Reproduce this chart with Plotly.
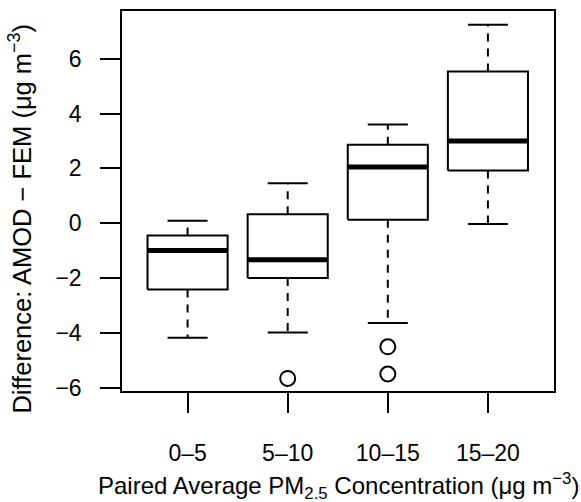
import plotly.graph_objects as go

# ---- data ----
groups = ["0–5", "5–10", "10–15", "15–20"]
lower_whisker = [-4.18, -3.99, -3.64, -0.03]
q1 = [-2.42, -2.00, 0.13, 1.92]
median = [-1.00, -1.33, 2.05, 3.00]
q3 = [-0.45, 0.33, 2.86, 5.53]
upper_whisker = [0.09, 1.46, 3.60, 7.24]
outlier_group = ["5–10", "10–15", "10–15"]
outlier_values = [-5.66, -4.51, -5.50]
y_ticks = [-6, -4, -2, 0, 2, 4, 6]

FONT = "Liberation Sans, Arial, Helvetica, sans-serif"
half = 0.4      # half box width (R boxwex 0.8)
cap = 0.2       # half staple width

positions = [i + 1 for i in range(len(groups))]

box_x, box_y = [], []
med_x, med_y = [], []
wh_x, wh_y = [], []
cap_x, cap_y = [], []
for p, lw, a, m, b, uw in zip(positions, lower_whisker, q1, median, q3, upper_whisker):
    box_x += [p - half, p + half, p + half, p - half, p - half, None]
    box_y += [a, a, b, b, a, None]
    med_x += [p - half, p + half, None]
    med_y += [m, m, None]
    wh_x += [p, p, None, p, p, None]
    wh_y += [b, uw, None, a, lw, None]
    cap_x += [p - cap, p + cap, None, p - cap, p + cap, None]
    cap_y += [uw, uw, None, lw, lw, None]

out_x = [positions[groups.index(g)] for g in outlier_group]

fig = go.Figure()
fig.add_trace(go.Scatter(x=wh_x, y=wh_y, mode="lines",
                         line=dict(color="black", width=2, dash="8px,7px"),
                         hoverinfo="skip"))
fig.add_trace(go.Scatter(x=cap_x, y=cap_y, mode="lines",
                         line=dict(color="black", width=2), hoverinfo="skip"))
fig.add_trace(go.Scatter(x=box_x, y=box_y, mode="lines",
                         line=dict(color="black", width=2), hoverinfo="skip"))
fig.add_trace(go.Scatter(x=med_x, y=med_y, mode="lines",
                         line=dict(color="black", width=5), hoverinfo="skip"))
fig.add_trace(go.Scatter(x=out_x, y=outlier_values, mode="markers",
                         marker=dict(symbol="circle-open", size=15,
                                     color="black", line=dict(width=2)),
                         hoverinfo="skip"))

fig.update_layout(
    width=581, height=502,
    margin=dict(l=122, r=27, t=9, b=111),
    paper_bgcolor="white", plot_bgcolor="white",
    showlegend=False,
    font=dict(family=FONT, size=23, color="black"),
    xaxis=dict(range=[0.345, 4.66], tickmode="array", tickvals=positions,
               ticktext=groups, ticks="outside", ticklen=20, tickwidth=1.5,
               tickcolor="black", showline=True, mirror=True, linewidth=1.5,
               linecolor="black", showgrid=False, zeroline=False,
               ticklabelstandoff=21, tickfont=dict(size=23)),
    yaxis=dict(range=[-6.12, 7.74], tickmode="array", tickvals=y_ticks,
               ticks="outside", ticklen=20, tickwidth=1.5, tickcolor="black",
               showline=True, mirror=True, linewidth=1.5, linecolor="black",
               showgrid=False, zeroline=False, ticklabelstandoff=14,
               tickfont=dict(size=23)),
    annotations=[
        dict(text="Paired Average PM<sub>2.5</sub> Concentration (μg m<sup>−3</sup>)",
             xref="paper", yref="paper", x=0.5, y=-0.25, xanchor="center",
             yanchor="middle", showarrow=False, font=dict(size=24)),
        dict(text="Difference: AMOD − FEM (μg m<sup>−3</sup>)",
             xref="paper", yref="paper", x=-0.235, y=0.455, xanchor="center",
             yanchor="middle", textangle=-90, showarrow=False,
             font=dict(size=25.5)),
    ],
)

fig.write_html("out.html")
